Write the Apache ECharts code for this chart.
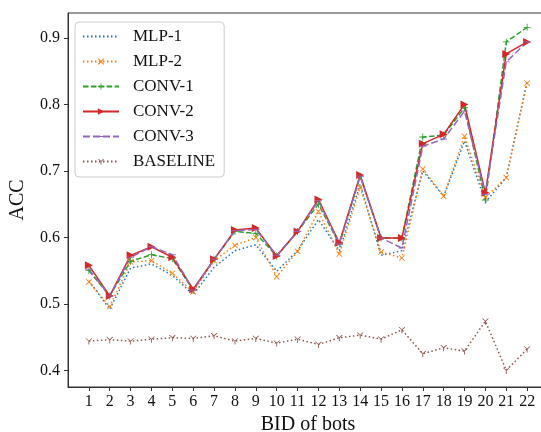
<!DOCTYPE html>
<html><head><meta charset="utf-8">
<script src="https://cdn.jsdelivr.net/npm/echarts@6/dist/echarts.min.js"></script>
<style>html,body{margin:0;padding:0;background:#fff}#c{width:541px;height:432px}</style>
</head><body><div id="c"></div>
<script>
const bids = [1,2,3,4,5,6,7,8,9,10,11,12,13,14,15,16,17,18,19,20,21,22];
const mlp1 = [0.535,0.492,0.554,0.560,0.543,0.514,0.555,0.580,0.589,0.549,0.580,0.627,0.580,0.680,0.573,0.580,0.700,0.662,0.745,0.653,0.690,0.835];
const mlp2 = [0.533,0.496,0.563,0.565,0.546,0.518,0.565,0.588,0.600,0.541,0.579,0.639,0.575,0.675,0.578,0.569,0.703,0.662,0.752,0.660,0.690,0.832];
const conv1 = [0.550,0.512,0.564,0.574,0.568,0.521,0.567,0.609,0.606,0.572,0.609,0.650,0.590,0.692,0.599,0.599,0.751,0.754,0.795,0.656,0.894,0.916];
const conv2 = [0.558,0.512,0.573,0.586,0.570,0.522,0.567,0.611,0.614,0.572,0.609,0.657,0.592,0.694,0.599,0.599,0.741,0.755,0.800,0.667,0.876,0.894];
const conv3 = [0.552,0.512,0.570,0.586,0.574,0.521,0.567,0.610,0.612,0.573,0.609,0.655,0.590,0.692,0.599,0.584,0.737,0.748,0.790,0.665,0.864,0.894];
const baseline = [0.444,0.446,0.444,0.447,0.449,0.448,0.452,0.444,0.448,0.441,0.447,0.439,0.449,0.453,0.447,0.461,0.425,0.434,0.429,0.474,0.400,0.432];
const yTicks = [0.4,0.5,0.6,0.7,0.8,0.9];
const names = ['MLP-1','MLP-2','CONV-1','CONV-2','CONV-3','BASELINE'];

const FONT = '"Liberation Serif", "DejaVu Serif", serif';
const pair = arr => arr.map((v,i)=>[bids[i], v]);
// tiny corner dots keep a 10x10 bounding box so shapes are not stretched
const BOX = ' M0,0 L0.01,0 L0,0.01 Z M10,10 L9.99,10 L10,9.99 Z';
const X_SYM = 'path://M0,1 L1,0 L5,4 L9,0 L10,1 L6,5 L10,9 L9,10 L5,6 L1,10 L0,9 L4,5 Z' + BOX;
const PLUS_SYM = 'path://M4.4,0 L5.6,0 L5.6,4.4 L10,4.4 L10,5.6 L5.6,5.6 L5.6,10 L4.4,10 L4.4,5.6 L0,5.6 L0,4.4 L4.4,4.4 Z' + BOX;
const TRI_SYM = 'path://M4.4,5 L4.4,10 L5.6,10 L5.6,5.3 L9.6,1.6 L8.8,0.8 L5,4.3 L1.2,0.8 L0.4,1.6 Z' + BOX;
const HLINE_SYM = 'path://M0,4.3 L10,4.3 L10,5.7 L0,5.7 Z' + BOX;

function mk(name, data, color, type, symbol, size, rot) {
  return {
    name, type: 'line', data: pair(data),
    symbol, symbolSize: size, symbolRotate: rot || 0,
    showSymbol: symbol !== 'none',
    lineStyle: { color, width: 1.5, type },
    itemStyle: { color, borderWidth: 0 },
    emphasis: { disabled: true },
    z: 2
  };
}

const series = [
  mk(names[0], mlp1, '#1f77b4', [1.5,2.5], 'none', 0),
  mk(names[1], mlp2, '#ff7f0e', [1.5,2.5], X_SYM, 6),
  mk(names[2], conv1, '#2ca02c', [5.5,2.4], PLUS_SYM, 7),
  mk(names[3], conv2, '#d62728', 'solid', 'triangle', 8, -90),
  mk(names[4], conv3, '#9467bd', [7,3], HLINE_SYM, 7),
  mk(names[5], baseline, '#8c564b', [1.5,2.5], TRI_SYM, 7),
];

const legendData = names.map((n,i) => i === 0 ? { name: n, itemStyle: { color: 'rgba(0,0,0,0)', opacity: 0 } } : { name: n });

const chart = echarts.init(document.getElementById('c'), null, {renderer: 'canvas'});
chart.setOption({
  animation: false,
  backgroundColor: '#fff',
  textStyle: { fontFamily: FONT },
  grid: { left: 68, top: 13, height: 374, width: 480, show: true, borderColor: '#333', borderWidth: 1, containLabel: false, outerBoundsMode: 'none' },
  legend: {
    data: legendData,
    orient: 'vertical', left: 75, top: 22,
    itemWidth: 36, itemHeight: 8, itemGap: 8,
    padding: [6, 9, 7, 7],
    backgroundColor: 'rgba(255,255,255,0.85)',
    borderColor: '#ccc', borderWidth: 1, borderRadius: 4,
    textStyle: { fontFamily: FONT, fontSize: 17, color: '#111', padding: [0,0,0,9] }
  },
  xAxis: {
    type: 'value', min: 0, max: 23,
    name: 'BID of bots', nameLocation: 'middle', nameGap: 24,
    nameTextStyle: { fontFamily: FONT, fontSize: 20, color: '#111' },
    axisLine: { show: true, onZero: false, lineStyle: { color: '#333', width: 1 } },
    axisTick: { show: true, customValues: bids, length: 4, lineStyle: { color: '#333' } },
    axisLabel: { customValues: bids, fontFamily: FONT, fontSize: 16, color: '#111', margin: 7, hideOverlap: false },
    splitLine: { show: false }
  },
  yAxis: {
    type: 'value', min: 0.375, max: 0.9375,
    name: 'ACC', nameLocation: 'middle', nameGap: 40, nameRotate: 90,
    nameTextStyle: { fontFamily: FONT, fontSize: 20, color: '#111' },
    axisLine: { show: true, onZero: false, lineStyle: { color: '#333', width: 1 } },
    axisTick: { show: true, customValues: yTicks, length: 4, lineStyle: { color: '#333' } },
    axisLabel: { customValues: yTicks, formatter: v => v.toFixed(1), fontFamily: FONT, fontSize: 16, color: '#111', margin: 8 },
    splitLine: { show: false }
  },
  series
});
</script>
</body></html>
